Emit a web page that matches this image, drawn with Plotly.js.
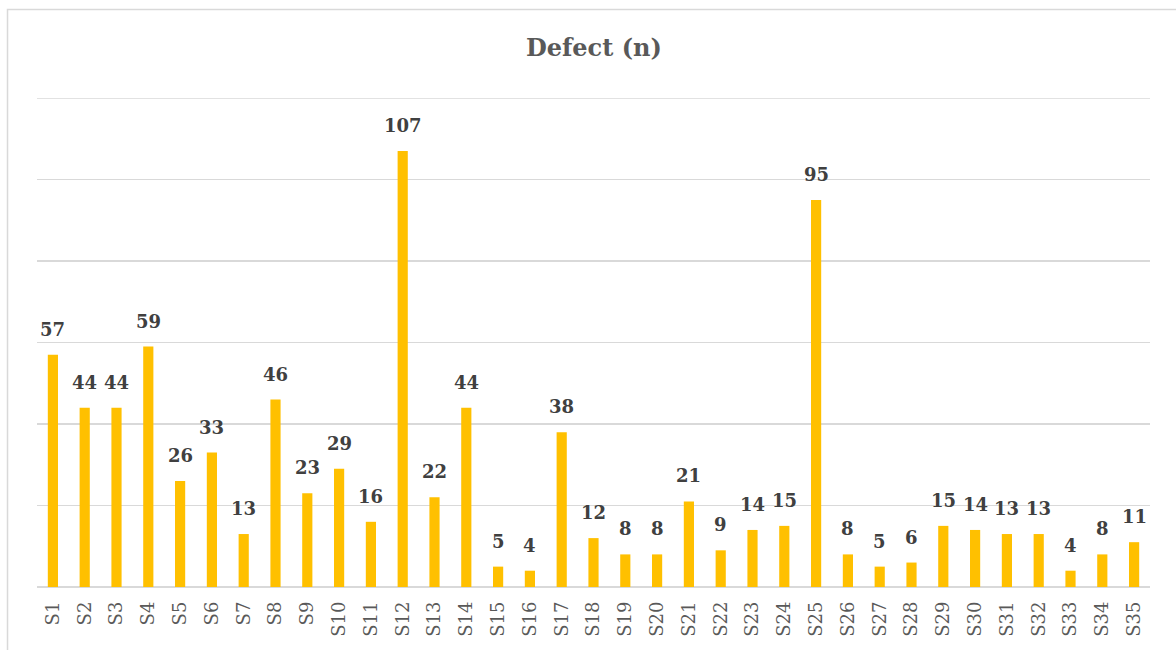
<!DOCTYPE html>
<html>
<head>
<meta charset="utf-8">
<script src="https://cdn.plot.ly/plotly-3.0.1.min.js"></script>
<style>
  html, body { margin: 0; padding: 0; background: #fff; }
  #chart { width: 1176px; height: 650px; }
</style>
</head>
<body>
<div id="chart"></div>
<script>
// Defect counts per sample
const samples = ["S1","S2","S3","S4","S5","S6","S7","S8","S9","S10",
                 "S11","S12","S13","S14","S15","S16","S17","S18","S19","S20",
                 "S21","S22","S23","S24","S25","S26","S27","S28","S29","S30",
                 "S31","S32","S33","S34","S35"];
const defects = [57,44,44,59,26,33,13,46,23,29,
                 16,107,22,44,5,4,38,12,8,8,
                 21,9,14,15,95,8,5,6,15,14,
                 13,13,4,8,11];
const yMax = 120;
const yStep = 20;

const serif = "DejaVu Serif";

const bars = {
  type: "bar",
  x: samples,
  y: defects,
  marker: { color: "#FFC000" },
  hoverinfo: "x+y"
};

// value labels above each bar
const labels = samples.map((s, i) => ({
  x: s,
  y: defects[i],
  xref: "x",
  yref: "y",
  text: "<b>" + defects[i] + "</b>",
  showarrow: false,
  yanchor: "bottom",
  yshift: 13,
  font: { family: serif, size: 18, color: "#404040" }
}));

const layout = {
  width: 1176,
  height: 650,
  margin: { l: 37, r: 26, t: 98, b: 63 },
  paper_bgcolor: "#ffffff",
  plot_bgcolor: "#ffffff",
  showlegend: false,
  bargap: 0.68,
  font: { family: serif },
  title: {
    text: "<b>Defect (n)</b>",
    font: { family: serif, size: 24, color: "#595959" },
    x: 0.505,
    xanchor: "center",
    y: 1 - 48 / 650,
    yanchor: "middle",
    yref: "container"
  },
  xaxis: {
    type: "category",
    tickangle: -90,
    tickfont: { family: serif, size: 18, color: "#595959" },
    ticks: "",
    ticklabelstandoff: 10,
    showline: false,
    showgrid: false
  },
  yaxis: {
    range: [0, yMax],
    dtick: yStep,
    showgrid: true,
    gridcolor: "#D9D9D9",
    gridwidth: 1.5,
    zeroline: true,
    zerolinecolor: "#D9D9D9",
    zerolinewidth: 1.5,
    showticklabels: false,
    ticks: "",
    fixedrange: true
  },
  annotations: labels,
  shapes: [{
    type: "rect",
    xref: "paper",
    yref: "paper",
    x0: -0.0265,
    x1: 1.2,
    y0: -0.3,
    y1: 1.181,
    line: { color: "#D9D9D9", width: 1.5 },
    fillcolor: "rgba(0,0,0,0)",
    layer: "below"
  }, {
    // top gridline at the end of the value range
    type: "line",
    xref: "paper",
    yref: "y",
    x0: 0,
    x1: 1,
    y0: yMax,
    y1: yMax,
    line: { color: "#D9D9D9", width: 1.5 },
    layer: "below"
  }]
};

Plotly.newPlot("chart", [bars], layout, { displayModeBar: false, staticPlot: true });
</script>
</body>
</html>
